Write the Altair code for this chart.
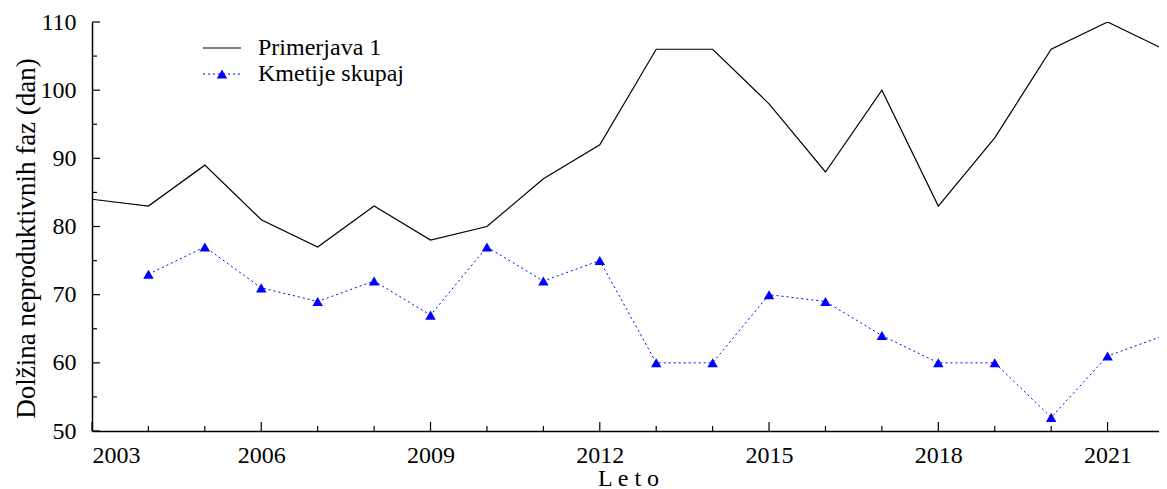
import altair as alt
import pandas as pd

years1 = list(range(2003, 2023))
primerjava = [84, 83, 89, 81, 77, 83, 78, 80, 87, 92, 106, 106, 98, 88, 100, 83, 93, 106, 110, 106]
years2 = list(range(2004, 2023))
kmetije = [73, 77, 71, 69, 72, 67, 77, 72, 75, 60, 60, 70, 69, 64, 60, 60, 52, 61, 64]
legend_labels = ["Primerjava 1", "Kmetije skupaj"]
x_label_years = [2003, 2006, 2009, 2012, 2015, 2018, 2021]
x_minor_years = [2004, 2005, 2007, 2008, 2010, 2011, 2013, 2014, 2016, 2017, 2019, 2020, 2022]
y_label_vals = [50, 60, 70, 80, 90, 100, 110]
y_minor_vals = [55, 65, 75, 85, 95, 105]

W, H = 1072, 409
FONT = "Liberation Serif, Times New Roman, Times, DejaVu Serif, serif"
FS = 24

df1 = pd.DataFrame({"leto": years1, "val": primerjava})
df2 = pd.DataFrame({"leto": years2, "val": kmetije})

xscale = alt.Scale(domain=[2003, 2022], nice=False, zero=False)
yscale = alt.Scale(domain=[50, 110], nice=False, zero=False)

xaxis = alt.Axis(orient="bottom", values=x_label_years, ticks=False, grid=False,
                 domain=True, domainColor="black", domainWidth=1.5,
                 labelFont=FONT, labelFontSize=FS, labelColor="black", labelPadding=12,
                 format="d", title="L e t o", titleFont=FONT, titleFontSize=FS,
                 titleFontWeight="normal", titleColor="black", titlePadding=-1)
yaxis = alt.Axis(orient="left", values=y_label_vals, ticks=False, grid=False,
                 domain=True, domainColor="black", domainWidth=1.5,
                 labelFont=FONT, labelFontSize=FS, labelColor="black", labelPadding=16,
                 title="Dolžina neproduktivnih faz (dan)", titleFont=FONT,
                 titleFontSize=27, titleFontWeight="normal", titleColor="black",
                 titlePadding=0, titleY=216)


def X():
    return alt.X("leto:Q", scale=xscale, axis=xaxis)


def Y():
    return alt.Y("val:Q", scale=yscale, axis=yaxis)


line1 = alt.Chart(df1).mark_line(color="black", strokeWidth=1.2, clip=True).encode(x=X(), y=Y())

line2 = alt.Chart(df2).mark_line(color="#0000ff", strokeWidth=1, strokeDash=[2, 3], clip=True).encode(
    x=X(), y=Y())

pts2 = alt.Chart(df2).mark_point(shape="triangle-up", filled=True, color="#0000ff", size=110,
                                 opacity=1, clip=True).encode(x=X(), y=Y())


def xticks(vals, length):
    d = pd.DataFrame({"leto": vals})
    return alt.Chart(d).mark_rule(color="black", strokeWidth=1.2).encode(
        x=X(), y=alt.value(H), y2=alt.value(H - length))


def yticks(vals, length):
    d = pd.DataFrame({"val": vals})
    return alt.Chart(d).mark_rule(color="black", strokeWidth=1.2).encode(
        y=Y(), x=alt.value(0), x2=alt.value(length))


dummy = pd.DataFrame({"a": [0]})
leg_line1 = alt.Chart(dummy).mark_rule(color="black", strokeWidth=1.2).encode(
    x=alt.value(111), x2=alt.value(149), y=alt.value(26))
leg_line2 = alt.Chart(dummy).mark_rule(color="#0000ff", strokeWidth=1, strokeDash=[2, 3]).encode(
    x=alt.value(111), x2=alt.value(149), y=alt.value(52))
leg_pt = alt.Chart(dummy).mark_point(shape="triangle-up", filled=True, color="#0000ff", size=110,
                                     opacity=1).encode(x=alt.value(130), y=alt.value(52))
leg_t1 = alt.Chart(dummy).mark_text(align="left", baseline="middle", font=FONT, fontSize=FS,
                                    color="black").encode(
    x=alt.value(166), y=alt.value(26), text=alt.value(legend_labels[0]))
leg_t2 = alt.Chart(dummy).mark_text(align="left", baseline="middle", font=FONT, fontSize=FS,
                                    color="black").encode(
    x=alt.value(166), y=alt.value(52), text=alt.value(legend_labels[1]))

chart = alt.layer(
    line1, line2, pts2,
    xticks(x_label_years, 9), xticks(x_minor_years, 5),
    yticks(y_label_vals, 8), yticks(y_minor_vals, 5),
    leg_line1, leg_line2, leg_pt, leg_t1, leg_t2,
).properties(
    width=W, height=H,
    padding={"left": 84, "top": 14, "right": -5, "bottom": 58},
    autosize=alt.AutoSizeParams(type="none"),
    background="white",
).configure_view(stroke=None).configure_axis(labelFont=FONT, titleFont=FONT)

chart.save("out.html", embed_options={"renderer": "svg", "actions": False})
